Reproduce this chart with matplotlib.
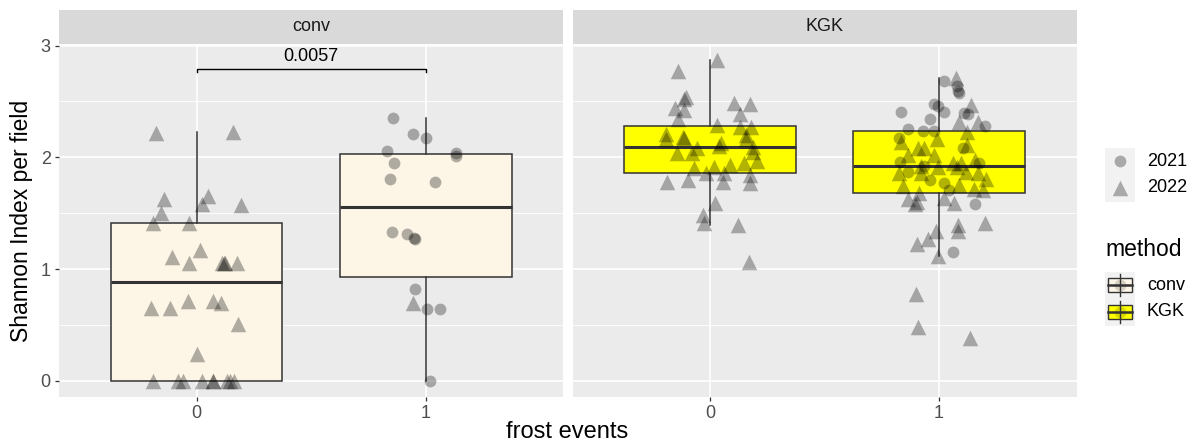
import numpy as np
import matplotlib.pyplot as plt

plt.rcParams['font.family'] = ['Liberation Sans', 'DejaVu Sans']

# Shannon index per field. dx = horizontal jitter of each point
methods = ['conv', 'KGK']
frost_labels = ['0', '1']
fill_colors = ['#FDF5E6', '#FFFF00']
p_label = '0.0057'

# conv, frost 0 (only 2022)
conv0_2022_y = [2.22, 2.23, 1.63, 1.65, 1.50, 1.58, 1.57, 1.41, 1.41, 1.11, 1.17,
                1.05, 1.05, 1.05, 1.05, 1.05,
                0.65, 0.65, 0.71, 0.71, 0.70, 0.51, 0.24,
                0, 0, 0, 0, 0, 0, 0, 0, 0]
conv0_2022_dx = [-0.175, 0.157, -0.144, 0.048, -0.157, 0.026, 0.192, -0.192, -0.031, -0.105, 0.013,
                 -0.035, 0.109, 0.118, 0.175, 0.125,
                 -0.197, -0.114, -0.039, 0.070, 0.105, 0.183, 0.004,
                 -0.188, -0.079, -0.061, 0.022, 0.070, 0.074, 0.131, 0.148, 0.162]
conv0_2021_y = []
conv0_2021_dx = []

# conv, frost 1
conv1_2021_y = [2.35, 2.21, 2.17, 2.06, 2.04, 2.01, 1.95, 1.81, 1.78,
                1.33, 1.31, 1.28, 1.27, 0.82, 0.64, 0.64, 0.0]
conv1_2021_dx = [-0.144, -0.057, 0.0, -0.170, 0.131, 0.131, -0.140, -0.157, 0.039,
                 -0.148, -0.083, -0.052, -0.048, -0.048, 0.004, 0.061, 0.017]
conv1_2022_y = [0.70]
conv1_2022_dx = [-0.057]

# KGK, frost 0 (only 2022)
kgk0_2022_y = [2.87, 2.77, 2.54, 2.52, 2.44, 2.42, 2.34, 2.49, 2.48, 2.39, 2.27,
               2.29, 2.27, 2.21, 2.16, 2.18, 2.17, 2.20, 2.16, 2.13, 2.10, 2.09,
               2.05, 2.08, 2.04, 2.04, 1.97, 1.95, 1.93, 1.91, 1.90, 1.86, 1.86,
               1.84, 1.78, 1.80, 1.78, 1.77, 1.59, 1.48, 1.41, 1.39, 1.06]
kgk0_2022_dx = [0.031, -0.140, -0.105, -0.114, -0.153, -0.114, -0.140, 0.105, 0.175, 0.131, 0.179,
                0.031, 0.131, -0.192, -0.192, -0.118, -0.114, 0.157, 0.157, 0.048, 0.039, 0.188,
                0.188, -0.057, -0.079, -0.144, 0.205, 0.148, 0.087, 0.017, -0.070, -0.017, 0.061,
                0.175, -0.188, -0.096, 0.057, 0.175, 0.022, -0.031, -0.026, 0.122, 0.170]
kgk0_2021_y = []
kgk0_2021_dx = []

# KGK, frost 1
kgk1_2021_y = [2.68, 2.64, 2.58, 2.59, 2.48, 2.46, 2.41, 2.41, 2.40, 2.39, 2.34, 2.28, 2.25,
               2.24, 2.24, 2.17, 2.08, 1.96, 1.87, 1.92, 1.95, 1.80, 1.77, 1.71, 1.58, 1.15]
kgk1_2021_dx = [0.022, 0.079, 0.087, 0.083, -0.022, -0.004, 0.022, -0.166, 0.109, 0.127, -0.039, 0.201, -0.135,
                -0.070, -0.022, -0.175, 0.105, -0.170, -0.135, -0.066, 0.175, -0.039, 0.022, 0.044, 0.157, 0.061]
kgk1_2022_y = [2.71, 2.47, 2.32, 2.32, 2.23, 2.16, 2.14, 2.11, 2.08, 2.08, 2.02, 2.02, 1.98, 1.95,
               1.95, 1.92, 1.91, 1.91, 1.87, 1.86, 1.86, 1.86, 1.81, 1.74, 1.75, 1.72, 1.71, 1.68,
               1.63, 1.60, 1.58, 1.59, 1.64, 1.39, 1.34, 1.41, 1.34, 1.27, 1.22, 1.12, 0.78, 0.48, 0.38]
kgk1_2022_dx = [0.074, 0.140, 0.170, 0.087, 0.122, -0.009, -0.166, 0.122, -0.092, -0.066, -0.135, -0.022, 0.157, 0.061,
                0.096, -0.079, -0.004, 0.079, 0.118, 0.170, -0.175, -0.079, 0.205, -0.157, 0.087, 0.153, 0.192, -0.087,
                -0.135, -0.096, -0.105, 0.066, 0.022, 0.083, 0.083, 0.201, -0.013, -0.048, -0.096, -0.004, -0.100, -0.092, 0.135]

groups = [
    [(conv0_2021_y, conv0_2021_dx, conv0_2022_y, conv0_2022_dx),
     (conv1_2021_y, conv1_2021_dx, conv1_2022_y, conv1_2022_dx)],
    [(kgk0_2021_y, kgk0_2021_dx, kgk0_2022_y, kgk0_2022_dx),
     (kgk1_2021_y, kgk1_2021_dx, kgk1_2022_y, kgk1_2022_dx)],
]

W, H = 1201, 446
fig = plt.figure(figsize=(W / 100, H / 100), dpi=100)

def px_rect(x0, y0, x1, y1):
    return [x0 / W, 1 - y1 / H, (x1 - x0) / W, (y1 - y0) / H]

panel_x = [(59, 563.3), (572.7, 1076.5)]
panel_top, panel_bot = 44.5, 396.7
strip_top, strip_bot = 10, 43.7
edge = '#333333'
pt_col = 'black'
pt_alpha = 0.3

axes = []
for i, m in enumerate(methods):
    x0, x1 = panel_x[i]
    ax = fig.add_axes(px_rect(x0, panel_top, x1, panel_bot))
    ax.set_facecolor('#EBEBEB')
    for s in ax.spines.values():
        s.set_visible(False)

    for j, (y21, dx21, y22, dx22) in enumerate(groups[i]):
        pos = j + 1
        vals = np.array(y21 + y22)
        ax.boxplot(vals, positions=[pos], widths=0.75, patch_artist=True,
                   showcaps=False, showfliers=False, manage_ticks=False, zorder=2,
                   boxprops=dict(facecolor=fill_colors[i], edgecolor=edge, linewidth=1.1),
                   whiskerprops=dict(color=edge, linewidth=1.1),
                   medianprops=dict(color=edge, linewidth=2.2))
        if y21:
            ax.scatter(pos + np.array(dx21), y21, marker='o', s=72, color=pt_col,
                       alpha=pt_alpha, linewidths=0, zorder=3)
        if y22:
            ax.scatter(pos + np.array(dx22), y22, marker='^', s=125, color=pt_col,
                       alpha=pt_alpha, linewidths=0, zorder=3)

    ax.set_xlim(0.4, 2.6)
    ax.set_ylim(-0.143, 3.01)
    ax.set_yticks([0, 1, 2, 3])
    ax.set_yticks([0.5, 1.5, 2.5], minor=True)
    ax.set_xticks([1, 2])
    ax.set_xticklabels(frost_labels)
    ax.grid(which='major', color='white', linewidth=1.2)
    ax.grid(which='minor', axis='y', color='white', linewidth=0.6)
    ax.set_axisbelow(True)
    ax.tick_params(which='major', length=3, width=0.9, color=edge,
                   labelsize=13, labelcolor='#4D4D4D', pad=3)
    ax.tick_params(which='minor', length=0)
    if i == 1:
        ax.tick_params(axis='y', left=False, labelleft=False)

    # facet strip
    sax = fig.add_axes(px_rect(x0, strip_top, x1, strip_bot))
    sax.set_facecolor('#D9D9D9')
    sax.set_xticks([])
    sax.set_yticks([])
    for s in sax.spines.values():
        s.set_visible(False)
    sax.text(0.5, 0.5, m, ha='center', va='center', fontsize=13, color='#1A1A1A',
             transform=sax.transAxes)
    axes.append(ax)

# significance bracket on conv panel
ax = axes[0]
yb = 2.79
ax.plot([1, 1, 2, 2], [yb - 0.03, yb, yb, yb - 0.03], color='black', linewidth=1.0, zorder=4)
ax.text(1.5, yb + 0.04, p_label, ha='center', va='bottom', fontsize=13, color='black')

# axis titles
fig.text(22 / W, 1 - 221 / H, 'Shannon Index per field', rotation=90, ha='center', va='center',
         fontsize=16.5, color='black')
fig.text(567.5 / W, 1 - 432 / H, 'frost events', ha='center', va='center',
         fontsize=17, color='black')

# legends drawn in pixel space
lax = fig.add_axes([0, 0, 1, 1])
lax.set_xlim(0, W)
lax.set_ylim(H, 0)
lax.axis('off')
lax.patch.set_alpha(0)

key_x0, key_x1 = 1105, 1135
kc = (key_x0 + key_x1) / 2
year_labels = ['2021', '2022']
year_markers = ['o', '^']
for k, (lab, mk) in enumerate(zip(year_labels, year_markers)):
    yc = 161 + 27 * k
    lax.add_patch(plt.Rectangle((key_x0, yc - 13.5), 30, 27, facecolor='#F2F2F2', edgecolor='none'))
    lax.scatter([kc], [yc], marker=mk, s=72 if mk == 'o' else 125, color=pt_col,
                alpha=pt_alpha, linewidths=0)
    lax.text(1147, yc, lab, ha='left', va='center', fontsize=13, color='black')

lax.text(1105, 249, 'method', ha='left', va='center', fontsize=16.5, color='black')
for k, (lab, fc) in enumerate(zip(methods, fill_colors)):
    yc = 285 + 27 * k
    lax.add_patch(plt.Rectangle((key_x0, yc - 13.5), 30, 27, facecolor='#F2F2F2', edgecolor='none'))
    lax.plot([kc, kc], [yc - 11, yc + 11], color=edge, linewidth=1.0)
    lax.add_patch(plt.Rectangle((key_x0 + 3, yc - 7), 24, 14, facecolor=fc, edgecolor=edge, linewidth=1.0))
    lax.plot([key_x0 + 3, key_x1 - 3], [yc, yc], color=edge, linewidth=1.8)
    lax.scatter([kc], [yc], marker='o', s=72, color=pt_col, alpha=0.15, linewidths=0)
    lax.text(1147, yc, lab, ha='left', va='center', fontsize=13, color='black')

fig.savefig('out.png', dpi=100)
